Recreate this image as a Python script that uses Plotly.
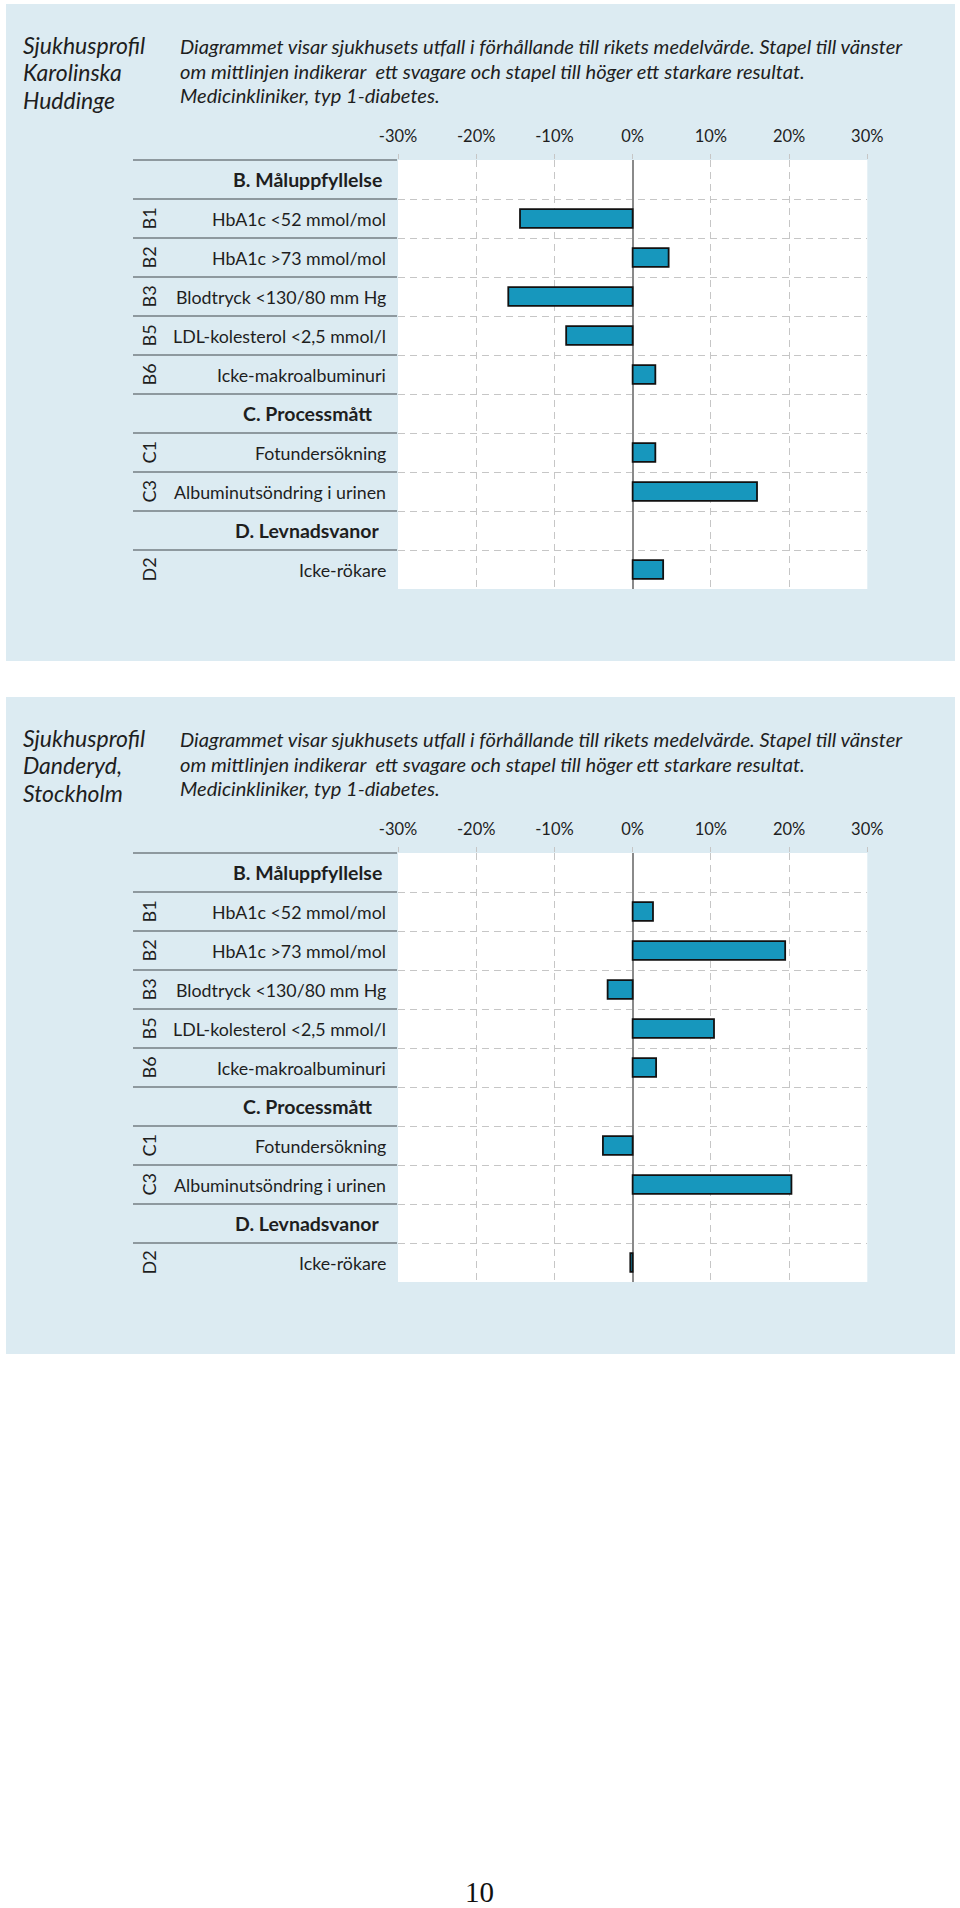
import plotly.graph_objects as go

# ---------------- data ----------------
row_codes = ["", "B1", "B2", "B3", "B5", "B6", "", "C1", "C3", "", "D2"]
row_labels = [
    "B. Måluppfyllelse",
    "HbA1c <52 mmol/mol",
    "HbA1c >73 mmol/mol",
    "Blodtryck <130/80 mm Hg",
    "LDL-kolesterol <2,5 mmol/l",
    "Icke-makroalbuminuri",
    "C. Processmått",
    "Fotundersökning",
    "Albuminutsöndring i urinen",
    "D. Levnadsvanor",
    "Icke-rökare",
]
karolinska_values = [None, -14.4, 4.6, -15.9, -8.5, 2.9, None, 2.9, 15.9, None, 3.9]
danderyd_values = [None, 2.6, 19.5, -3.2, 10.4, 3.0, None, -3.8, 20.3, None, -0.3]

x_ticks = [-30, -20, -10, 0, 10, 20, 30]
x_tick_labels = ["-30%", "-20%", "-10%", "0%", "10%", "20%", "30%"]

karolinska_title = ["Sjukhusprofil", "Karolinska", "Huddinge"]
danderyd_title = ["Sjukhusprofil", "Danderyd,", "Stockholm"]
description = [
    "Diagrammet visar sjukhusets utfall i förhållande till rikets medelvärde. Stapel till vänster",
    "om mittlinjen indikerar  ett svagare och stapel till höger ett starkare resultat.",
    "Medicinkliniker, typ 1-diabetes.",
]
page_number = "10"

# ---------------- layout helpers ----------------
W, H = 960, 1908
FONT = "Lato, 'Open Sans', sans-serif"
TEXT = "#1e1e1e"
PANEL_BG = "#dcebf2"
BAR = "#1797bd"
SEP = "#8e999f"
GRID = "#c6c6c6"


def px(x):
    return x / W


def py(y):
    return 1 - y / H


panels = [
    dict(title=karolinska_title, values=karolinska_values, off=0, ax=""),
    dict(title=danderyd_title, values=danderyd_values, off=693, ax="2"),
]

fig = go.Figure()
shapes = []
annotations = []

for p in panels:
    off = p["off"]
    ax = p["ax"]
    xa = "x" + ax
    ya = "y" + ax

    fig.add_trace(go.Bar(
        x=p["values"], y=row_labels, orientation="h",
        xaxis=xa, yaxis=ya, width=0.48,
        marker=dict(color=BAR, line=dict(color="#111111", width=1.8)),
        showlegend=False, hoverinfo="skip",
    ))

    # blue panel + white plotting area
    shapes.append(dict(type="rect", xref="paper", yref="paper",
                       x0=px(6), x1=px(955), y0=py(4 + off), y1=py(661 + off),
                       fillcolor=PANEL_BG, line=dict(width=0), layer="below"))
    shapes.append(dict(type="rect", xref=xa + " domain", yref=ya + " domain",
                       x0=0, x1=1, y0=0, y1=1,
                       fillcolor="white", line=dict(width=0), layer="below"))

    # titles
    for i, t in enumerate(p["title"]):
        annotations.append(dict(text=t, xref="paper", yref="paper",
                                x=px(21), y=py(45 + 27.5 * i + off),
                                xanchor="left", yanchor="middle", showarrow=False,
                                font=dict(family=FONT, size=23, color=TEXT, style="italic")))
    for i, t in enumerate(description):
        annotations.append(dict(text=t, xref="paper", yref="paper",
                                x=px(178), y=py(46 + 24.5 * i + off),
                                xanchor="left", yanchor="middle", showarrow=False,
                                font=dict(family=FONT, size=20.1, color=TEXT, style="italic")))

    # row labels
    for code, label in zip(row_codes, row_labels):
        if code == "":
            annotations.append(dict(text="<b>" + label + "</b>", xref="paper", yref=ya,
                                    x=px(307), y=label, xanchor="center", yanchor="middle",
                                    showarrow=False,
                                    font=dict(family=FONT, size=19.5, color=TEXT)))
        else:
            annotations.append(dict(text=label, xref="paper", yref=ya,
                                    x=px(388), y=label, xanchor="right", yanchor="middle",
                                    showarrow=False,
                                    font=dict(family=FONT, size=17.8, color=TEXT)))
            annotations.append(dict(text=code, xref="paper", yref=ya,
                                    x=px(148), y=label, xanchor="center", yanchor="middle",
                                    textangle=-90, showarrow=False,
                                    font=dict(family=FONT, size=18, color=TEXT)))

    top = 160 + off
    bottom = 589 + off
    fig.update_layout(**{
        "xaxis" + ax: dict(
            domain=[px(398), px(867.3)], range=[-30, 30], anchor=ya,
            side="top", tickvals=x_ticks, ticktext=x_tick_labels,
            ticks="outside", ticklen=5, tickcolor=GRID, tickwidth=1,
            ticklabelstandoff=5, automargin=False,
            tickfont=dict(family=FONT, size=16.5, color=TEXT),
            showgrid=True, gridcolor=GRID, gridwidth=1.3, griddash="7px,5px",
            zeroline=True, zerolinecolor="#8a8a8a", zerolinewidth=1.6,
            showline=False, fixedrange=True,
        ),
        "yaxis" + ax: dict(
            domain=[py(bottom), py(top)], anchor=xa, automargin=False,
            type="category", categoryorder="array", categoryarray=row_labels,
            range=[len(row_labels) - 0.5, -0.5],
            tickson="boundaries", ticks="outside", ticklen=264, tickwidth=2,
            tickcolor=SEP, showticklabels=False,
            showgrid=True, gridcolor=GRID, gridwidth=1.3, griddash="7px,5px",
            zeroline=False, showline=False, fixedrange=True,
        ),
    })

annotations.append(dict(text=page_number, xref="paper", yref="paper",
                        x=px(479), y=py(1892), xanchor="center", yanchor="middle",
                        showarrow=False,
                        font=dict(family="'Liberation Serif', serif", size=29, color="#111111")))

fig.update_layout(
    width=W, height=H,
    margin=dict(l=0, r=0, t=0, b=0, pad=0, autoexpand=False),
    paper_bgcolor="white", plot_bgcolor="rgba(0,0,0,0)",
    shapes=shapes, annotations=annotations,
    bargap=0.5,
)

fig.write_html("out.html", config={"displayModeBar": False},
               post_script="document.body.style.margin='0px';")
